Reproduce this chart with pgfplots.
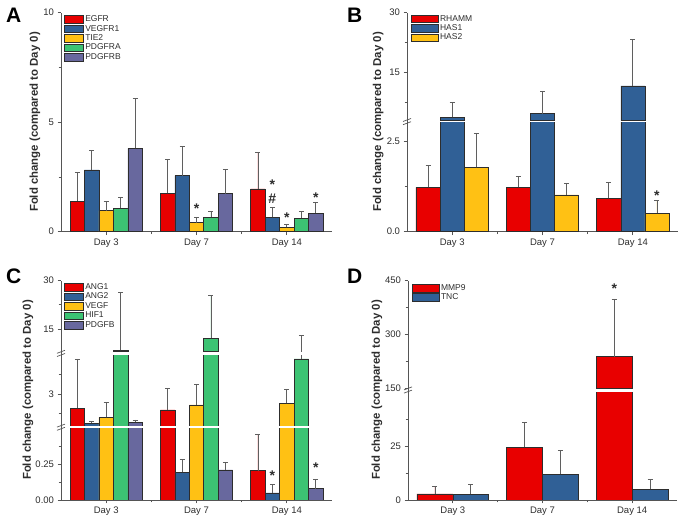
\documentclass[border=0pt]{standalone}
\usepackage{pgfplots}
\pgfplotsset{compat=1.18}
\usepackage{fontspec}
\setmainfont{Liberation Sans}
\definecolor{cRed}{RGB}{232,0,0}
\definecolor{cBlue}{RGB}{48,96,150}
\definecolor{cYel}{RGB}{255,193,20}
\definecolor{cGrn}{RGB}{60,195,115}
\definecolor{cPur}{RGB}{104,104,158}
\definecolor{edge}{RGB}{45,45,45}
\definecolor{axc}{RGB}{85,85,85}
\definecolor{errc}{RGB}{95,95,95}
\definecolor{tickc}{RGB}{45,45,45}

\tikzset{annot/.style={font=\bfseries\fontsize{14}{14}\selectfont, text=tickc, anchor=base, inner sep=0pt, yshift=-7pt}}
\pgfplotsset{
  base/.style={
    scale only axis, anchor=south west,
    xmin=-0.5, xmax=2.5,
    ybar=0pt,
    clip mode=individual,
    axis line style={-, draw=axc, line width=0.7pt},
    tick style={draw=axc, line width=0.7pt},
    tick align=outside,
    major tick length=3.5pt, minor tick length=2.5pt,
    ticklabel style={font=\fontsize{9.5}{10}\selectfont, text=tickc},
    every axis plot/.append style={draw=edge, line width=0.5pt},
    error bars/y dir=plus, error bars/y explicit,
    error bars/error bar style={draw=errc, line width=0.8pt},
    error bars/error mark options={rotate=90, mark size=2.5pt, draw=errc, line width=0.8pt},
    legend style={draw=none, fill=none, font=\fontsize{8.5}{9}\selectfont, text=tickc,
      row sep=-0.6pt, inner sep=0pt, nodes={inner sep=1.3pt}},
    legend cell align=left,
  },
  lowerseg/.style={base, axis x line*=bottom, axis y line*=left,
    xtick={0,1,2}, xticklabels={Day 3, Day 7, Day 14}, minor xtick={0.5,1.5}},
  upperseg/.style={base, axis x line=none, axis y line*=left, xtick=\empty,
    ymin=#1, y filter/.expression={y<#1 ? nan : y}},
  narrowleg/.style={legend image code/.code={\draw[##1] (0pt,-3.8pt) rectangle (19pt,3.8pt);}},
  wideleg/.style={legend image code/.code={\draw[##1] (0pt,-3.8pt) rectangle (27pt,3.8pt);}},
}

\pgfplotstableread[row sep=\\]{x y e\\ 0 1.40 1.30\\ 1 1.75 1.55\\ 2 1.96 1.66\\}\aEGFR
\pgfplotstableread[row sep=\\]{x y e\\ 0 2.82 0.88\\ 1 2.56 1.35\\ 2 0.65 0.45\\}\aVEGFR
\pgfplotstableread[row sep=\\]{x y e\\ 0 0.96 0.44\\ 1 0.41 0.24\\ 2 0.20 0.12\\}\aTIE
\pgfplotstableread[row sep=\\]{x y e\\ 0 1.07 0.48\\ 1 0.65 0.26\\ 2 0.62 0.32\\}\aPDA
\pgfplotstableread[row sep=\\]{x y e\\ 0 3.80 2.29\\ 1 1.74 1.11\\ 2 0.84 0.51\\}\aPDB

\pgfplotstableread[row sep=\\]{x y e\\ 0 1.22 0.60\\ 1 1.22 0.31\\ 2 0.92 0.44\\}\bRH
\pgfplotstableread[row sep=\\]{x y e\\ 0 3.8 3.8\\ 1 4.75 5.45\\ 2 11.7 11.6\\}\bHAa
\pgfplotstableread[row sep=\\]{x y e\\ 0 1.77 0.94\\ 1 1.01 0.33\\ 2 0.51 0.34\\}\bHAb

\pgfplotstableread[row sep=\\]{x y e\\ 0 1.88 3.85\\ 1 1.75 1.71\\ 2 0.205 0.255\\}\cANG
\pgfplotstableread[row sep=\\]{x y e\\ 0 0.71 0.18\\ 1 0.194 0.091\\ 2 0.05 0.06\\}\cANGb
\pgfplotstableread[row sep=\\]{x y e\\ 0 1.18 1.19\\ 1 2.14 1.61\\ 2 2.27 1.12\\}\cVEGF
\pgfplotstableread[row sep=\\]{x y e\\ 0 8.37 18.1\\ 1 12.1 13.2\\ 2 5.73 7.3\\}\cHIF
\pgfplotstableread[row sep=\\]{x y e\\ 0 0.79 0.18\\ 1 0.21 0.05\\ 2 0.08 0.065\\}\cPDG

\pgfplotstableread[row sep=\\]{x y e\\ 0 2.8 3.4\\ 1 24.4 11.6\\ 2 238 161\\}\dMMP
\pgfplotstableread[row sep=\\]{x y e\\ 0 2.6 4.7\\ 1 11.9 11.1\\ 2 4.9 4.7\\}\dTNC

\begin{document}
\begin{tikzpicture}
\path[use as bounding box] (0pt,0pt) rectangle (685pt,521pt);

% ---------------- Panel A ----------------
\begin{axis}[lowerseg, narrowleg, at={(61pt,289.3pt)}, width=271pt, height=219pt,
  ymin=0, ymax=10, ytick={0,5,10}, yticklabels={0,5,10}, minor ytick={2.5,7.5},
  bar width=0.16, legend style={at={(0.012,0.993)}, anchor=north west}]
\addplot[fill=cRed, bar shift=-0.32] table[x=x,y=y,y error=e] {\aEGFR};
\addplot[fill=cBlue, bar shift=-0.16] table[x=x,y=y,y error=e] {\aVEGFR};
\addplot[fill=cYel, bar shift=0] table[x=x,y=y,y error=e] {\aTIE};
\addplot[fill=cGrn, bar shift=0.16] table[x=x,y=y,y error=e] {\aPDA};
\addplot[fill=cPur, bar shift=0.32] table[x=x,y=y,y error=e] {\aPDB};
\legend{EGFR,VEGFR1,TIE2,PDGFRA,PDGFRB}
\node[annot] at (axis cs:1,1.14) {*};
\node[annot] at (axis cs:1.84,2.24) {*};
\node[annot] at (axis cs:1.84,1.60) {\#};
\node[annot] at (axis cs:2,0.76) {*};
\node[annot] at (axis cs:2.32,1.67) {*};
\end{axis}

% ---------------- Panel B ----------------
\begin{axis}[lowerseg, at={(407pt,289.3pt)}, width=271pt, height=109pt,
  ymin=0, ymax=3, ytick={0,2.5}, yticklabels={0.0,2.5}, minor ytick={1.25},
  bar width=0.267]
\addplot[fill=cRed, bar shift=-0.267] table[x=x,y=y,y error=e] {\bRH};
\addplot[fill=cBlue, bar shift=0] table[x=x,y=y,y error=e] {\bHAa};
\addplot[fill=cYel, bar shift=0.267] table[x=x,y=y,y error=e] {\bHAb};
\node[annot] at (axis cs:2.267,1.06) {*};
\end{axis}
\begin{axis}[upperseg=3, wideleg, at={(407pt,400.3pt)}, width=271pt, height=108pt,
  ymax=30, ytick={15,30}, yticklabels={15,30}, minor ytick={7.5,22.5},
  bar width=0.267, legend style={at={(0.015,0.99)}, anchor=north west}]
\addplot[fill=cRed, bar shift=-0.267, forget plot] table[x=x,y=y,y error=e] {\bRH};
\addplot[fill=cBlue, bar shift=0, forget plot] table[x=x,y=y,y error=e] {\bHAa};
\addplot[fill=cYel, bar shift=0.267, forget plot] table[x=x,y=y,y error=e] {\bHAb};
\addlegendimage{fill=cRed, draw=edge, line width=0.5pt}
\addlegendimage{fill=cBlue, draw=edge, line width=0.5pt}
\addlegendimage{fill=cYel, draw=edge, line width=0.5pt}
\legend{RHAMM,HAS1,HAS2}
\end{axis}

% ---------------- Panel C ----------------
\begin{axis}[lowerseg, at={(61pt,21pt)}, width=271pt, height=71.5pt,
  ymin=0, ymax=0.5, ytick={0,0.25}, yticklabels={0.00,0.25}, minor ytick={0.125,0.375},
  bar width=0.16]
\addplot[fill=cRed, bar shift=-0.32] table[x=x,y=y,y error=e] {\cANG};
\addplot[fill=cBlue, bar shift=-0.16] table[x=x,y=y,y error=e] {\cANGb};
\addplot[fill=cYel, bar shift=0] table[x=x,y=y,y error=e] {\cVEGF};
\addplot[fill=cGrn, bar shift=0.16] table[x=x,y=y,y error=e] {\cHIF};
\addplot[fill=cPur, bar shift=0.32] table[x=x,y=y,y error=e] {\cPDG};
\node[annot] at (axis cs:1.84,0.187) {*};
\node[annot] at (axis cs:2.32,0.24) {*};
\end{axis}
\begin{axis}[upperseg=0.5, at={(61pt,95pt)}, width=271pt, height=70.5pt,
  ymax=6, ytick={3}, yticklabels={3}, minor ytick={1.5,4.5},
  bar width=0.16]
\addplot[fill=cRed, bar shift=-0.32] table[x=x,y=y,y error=e] {\cANG};
\addplot[fill=cBlue, bar shift=-0.16] table[x=x,y=y,y error=e] {\cANGb};
\addplot[fill=cYel, bar shift=0] table[x=x,y=y,y error=e] {\cVEGF};
\addplot[fill=cGrn, bar shift=0.16] table[x=x,y=y,y error=e] {\cHIF};
\addplot[fill=cPur, bar shift=0.32] table[x=x,y=y,y error=e] {\cPDG};
\end{axis}
\begin{axis}[upperseg=8, narrowleg, at={(61pt,169.5pt)}, width=271pt, height=70.8pt,
  ymax=30, ytick={15,30}, yticklabels={15,30}, minor ytick={22.5},
  bar width=0.16, legend style={at={(0.012,0.98)}, anchor=north west}]
\addplot[fill=cRed, bar shift=-0.32, forget plot] table[x=x,y=y,y error=e] {\cANG};
\addplot[fill=cBlue, bar shift=-0.16, forget plot] table[x=x,y=y,y error=e] {\cANGb};
\addplot[fill=cYel, bar shift=0, forget plot] table[x=x,y=y,y error=e] {\cVEGF};
\addplot[fill=cGrn, bar shift=0.16, forget plot] table[x=x,y=y,y error=e] {\cHIF};
\addplot[fill=cPur, bar shift=0.32, forget plot] table[x=x,y=y,y error=e] {\cPDG};
% error bar of HIF1 at Day 14 that rises into this segment
\addplot[draw=none, fill=none, bar shift=0.16, forget plot, y filter/.expression={y}]
  table[x=x,y=y,y error=e, skip coords between index={0}{2}] {\cHIF};
\addlegendimage{fill=cRed, draw=edge, line width=0.5pt}
\addlegendimage{fill=cBlue, draw=edge, line width=0.5pt}
\addlegendimage{fill=cYel, draw=edge, line width=0.5pt}
\addlegendimage{fill=cGrn, draw=edge, line width=0.5pt}
\addlegendimage{fill=cPur, draw=edge, line width=0.5pt}
\legend{ANG1,ANG2,VEGF,HIF1,PDGFB}
\end{axis}

% ---------------- Panel D ----------------
\begin{axis}[lowerseg, at={(408pt,21pt)}, width=269pt, height=108pt,
  ymin=0, ymax=50, ytick={0,25}, yticklabels={0,25}, minor ytick={12.5,37.5},
  bar width=0.4]
\addplot[fill=cRed, bar shift=-0.2] table[x=x,y=y,y error=e] {\dMMP};
\addplot[fill=cBlue, bar shift=0.2] table[x=x,y=y,y error=e] {\dTNC};
\end{axis}
\begin{axis}[upperseg=150, wideleg, at={(408pt,132.7pt)}, width=269pt, height=107.6pt,
  ymax=450, ytick={150,300,450}, yticklabels={150,300,450}, minor ytick={225,375},
  bar width=0.4, legend style={at={(0.015,0.98)}, anchor=north west}]
\addplot[fill=cRed, bar shift=-0.2, forget plot] table[x=x,y=y,y error=e] {\dMMP};
\addplot[fill=cBlue, bar shift=0.2, forget plot] table[x=x,y=y,y error=e] {\dTNC};
\addlegendimage{fill=cRed, draw=edge, line width=0.5pt}
\addlegendimage{fill=cBlue, draw=edge, line width=0.5pt}
\legend{MMP9,TNC}
\node[annot] at (axis cs:1.8,433) {*};
\end{axis}

% ---------------- axis breaks ----------------
\begin{scope}[draw=axc, line width=0.7pt]
\draw (407pt,398pt) -- (407pt,401pt);
\draw (403pt,396.3pt) -- (411pt,399.3pt); \draw (403pt,399.5pt) -- (411pt,402.5pt);
\draw (61pt,92pt) -- (61pt,95.5pt);
\draw (57pt,90.7pt) -- (65pt,93.7pt); \draw (57pt,93.9pt) -- (65pt,96.9pt);
\draw (61pt,165pt) -- (61pt,170pt);
\draw (57pt,164.5pt) -- (65pt,167.5pt); \draw (57pt,167.7pt) -- (65pt,170.7pt);
\draw (408pt,128.5pt) -- (408pt,133pt);
\draw (404pt,127.9pt) -- (412pt,130.9pt); \draw (404pt,131.1pt) -- (412pt,134.1pt);
\end{scope}

% ---------------- labels ----------------
\begin{scope}[every node/.style={rotate=90, text=tickc, font=\bfseries\fontsize{11.4}{12}\selectfont}]
\node at (35pt,399pt) {Fold change (compared to Day 0)};
\node at (378.3pt,399pt) {Fold change (compared to Day 0)};
\node at (28pt,131pt) {Fold change (compared to Day 0)};
\node at (377pt,131pt) {Fold change (compared to Day 0)};
\end{scope}
\begin{scope}[every node/.style={anchor=base west, inner sep=0pt, font=\bfseries\fontsize{21}{21}\selectfont}]
\node at (6pt,498.3pt) {A};
\node at (347pt,498.3pt) {B};
\node at (6pt,237.5pt) {C};
\node at (347pt,237.5pt) {D};
\end{scope}
\end{tikzpicture}
\end{document}
